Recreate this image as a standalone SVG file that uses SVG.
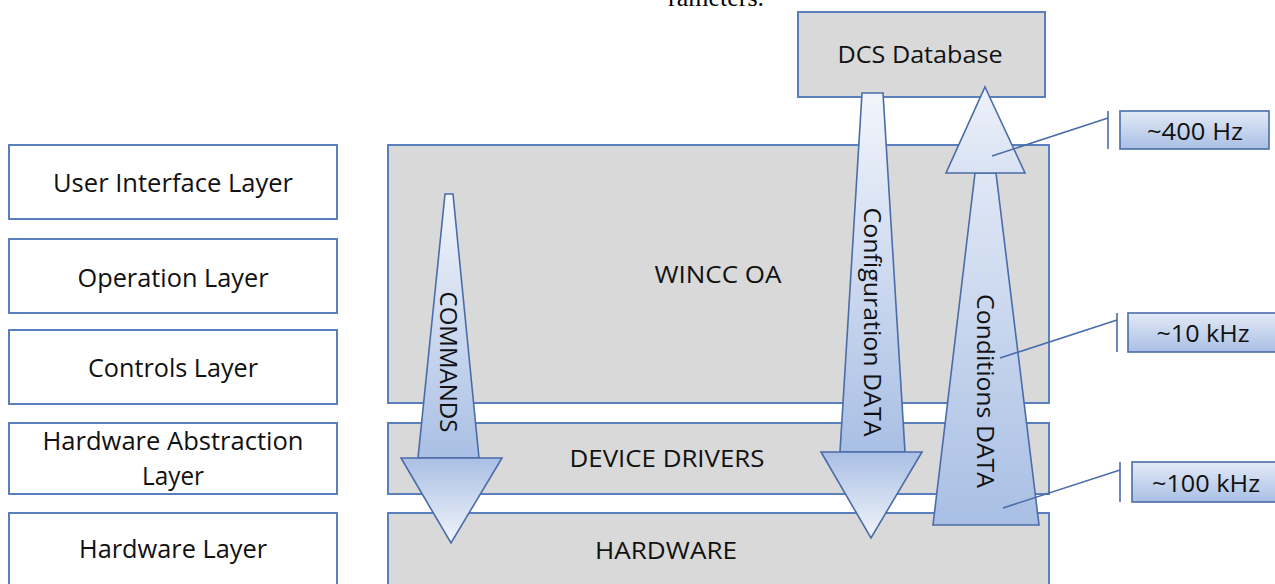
<svg xmlns="http://www.w3.org/2000/svg" width="1275" height="584" viewBox="0 0 1275 584">
<defs>
<style>
.layer{fill:#ffffff;stroke:#5b7fbd;stroke-width:2}
.block{fill:#d9d9d9;stroke:#5b7fbd;stroke-width:2}
.arrow{stroke:#4a6ca8;stroke-width:1.6;stroke-linejoin:miter}
.lbl{font-family:"Open Sans","Noto Sans",sans-serif;font-weight:500;fill:#111111;text-anchor:middle}
.call{fill:url(#callGrad);stroke:#4a6ca8;stroke-width:1.6}
.lead{stroke:#4a6ca8;stroke-width:1.6;fill:none}
</style>
<linearGradient id="shaftGrad" x1="0" y1="0" x2="0" y2="1">
<stop offset="0" stop-color="#f2f5fb"/>
<stop offset="1" stop-color="#a9bfe4"/>
</linearGradient>
<linearGradient id="headDown" x1="0" y1="0" x2="0" y2="1">
<stop offset="0" stop-color="#a9bfe4"/>
<stop offset="1" stop-color="#f2f5fb"/>
</linearGradient>
<linearGradient id="headUp" x1="0" y1="0" x2="0" y2="1">
<stop offset="0" stop-color="#eef2fa"/>
<stop offset="1" stop-color="#d8e2f3"/>
</linearGradient>
<linearGradient id="upShaft" x1="0" y1="0" x2="0" y2="1">
<stop offset="0" stop-color="#dfe7f5"/>
<stop offset="1" stop-color="#a9bfe4"/>
</linearGradient>
<linearGradient id="callGrad" x1="0" y1="0" x2="0" y2="1">
<stop offset="0" stop-color="#e3eaf6"/>
<stop offset="1" stop-color="#a9bfe4"/>
</linearGradient>
</defs>

<text x="668" y="6" font-family="Liberation Serif, serif" font-size="26" fill="#000">rameters.</text>

<g id="layer-ui"><rect class="layer" x="9" y="145" width="328" height="74"/><text class="lbl" x="173" y="192" font-size="25" textLength="240" lengthAdjust="spacingAndGlyphs">User Interface Layer</text></g>
<g id="layer-op"><rect class="layer" x="9" y="239" width="328" height="74"/><text class="lbl" x="173" y="287" font-size="25" textLength="191" lengthAdjust="spacingAndGlyphs">Operation Layer</text></g>
<g id="layer-ctrl"><rect class="layer" x="9" y="330" width="328" height="74"/><text class="lbl" x="173" y="377" font-size="25" textLength="170" lengthAdjust="spacingAndGlyphs">Controls Layer</text></g>
<g id="layer-hal"><rect class="layer" x="9" y="423" width="328" height="71"/><text class="lbl" x="173" y="450" font-size="25" textLength="261" lengthAdjust="spacingAndGlyphs">Hardware Abstraction</text><text class="lbl" x="173" y="485" font-size="25" textLength="62" lengthAdjust="spacingAndGlyphs">Layer</text></g>
<g id="layer-hw"><rect class="layer" x="9" y="513" width="328" height="80"/><text class="lbl" x="173" y="558" font-size="25" textLength="188" lengthAdjust="spacingAndGlyphs">Hardware Layer</text></g>

<g id="wincc"><rect class="block" x="388" y="145" width="661" height="258"/><text class="lbl" x="718" y="283" font-size="24" textLength="127" lengthAdjust="spacingAndGlyphs">WINCC OA</text></g>
<g id="device-drivers"><rect class="block" x="388" y="423" width="661" height="71"/><text class="lbl" x="667" y="467" font-size="24" textLength="195" lengthAdjust="spacingAndGlyphs">DEVICE DRIVERS</text></g>
<g id="hardware"><rect class="block" x="388" y="513" width="661" height="80"/><text class="lbl" x="666" y="559" font-size="24" textLength="142" lengthAdjust="spacingAndGlyphs">HARDWARE</text></g>
<g id="dcs-db"><rect class="block" x="798" y="12" width="247" height="85"/><text class="lbl" x="920" y="63" font-size="24" textLength="165" lengthAdjust="spacingAndGlyphs">DCS Database</text></g>

<g id="connectors">
<g id="commands">
<polygon class="arrow" fill="url(#shaftGrad)" points="445,194 453,194 479,458 418,458"/>
<polygon class="arrow" fill="url(#headDown)" points="401,458 502,458 451,543"/>
<text class="lbl" font-size="23" transform="translate(448,362) rotate(90)" y="8" textLength="141" lengthAdjust="spacingAndGlyphs">COMMANDS</text>
</g>
<g id="configuration-data">
<polygon class="arrow" fill="url(#shaftGrad)" points="862,93 883,93 905,452 840,452"/>
<polygon class="arrow" fill="url(#headDown)" points="821,452 922,452 871,538"/>
<text class="lbl" font-size="23" transform="translate(872,322) rotate(90)" y="8" textLength="229" lengthAdjust="spacingAndGlyphs">Configuration DATA</text>
</g>
<g id="conditions-data">
<polygon class="arrow" fill="url(#upShaft)" points="975,173 996,173 1039,525 933,525"/>
<polygon class="arrow" fill="url(#headUp)" points="985,87 1025,173 946,173"/>
<text class="lbl" font-size="23" transform="translate(985,391) rotate(90)" y="8" textLength="194" lengthAdjust="spacingAndGlyphs">Conditions DATA</text>
</g>
<g id="leaders">
<path class="lead" d="M992,156 L1108,118 M1108,111 L1108,149"/>
<path class="lead" d="M1000,358 L1117,320 M1117,313 L1117,352"/>
<path class="lead" d="M1003,508 L1120,470 M1120,462 L1120,502"/>
</g>
</g>

<g id="rate-400hz"><rect class="call" x="1120" y="111" width="149" height="38"/><text class="lbl" x="1195" y="140" font-size="23" textLength="96" lengthAdjust="spacingAndGlyphs">~400 Hz</text></g>
<g id="rate-10khz"><rect class="call" x="1128" y="313" width="152" height="39"/><text class="lbl" x="1203" y="342" font-size="23" textLength="93" lengthAdjust="spacingAndGlyphs">~10 kHz</text></g>
<g id="rate-100khz"><rect class="call" x="1132" y="462" width="148" height="40"/><text class="lbl" x="1206" y="492" font-size="23" textLength="108" lengthAdjust="spacingAndGlyphs">~100 kHz</text></g>
</svg>
